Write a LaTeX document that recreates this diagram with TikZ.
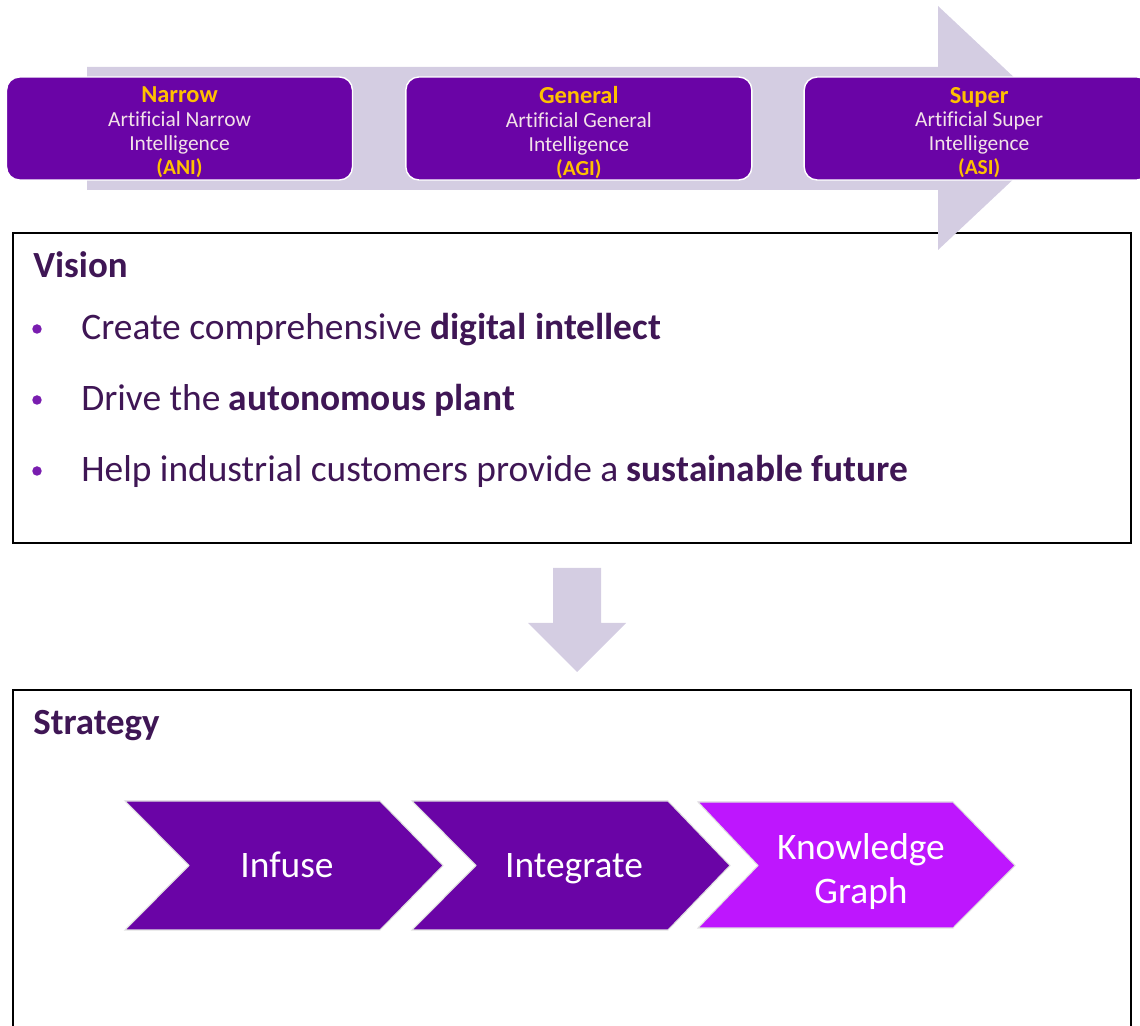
\documentclass[tikz,border=0pt]{standalone}
\usepackage{fontspec}
\setmainfont[Ligatures=NoCommon]{Carlito}
\usepackage{xcolor}
\usetikzlibrary{positioning}

\definecolor{lav}{RGB}{212,205,226}
\definecolor{deeppurple}{RGB}{106,4,166}
\definecolor{brightpurple}{RGB}{190,22,254}
\definecolor{gold}{RGB}{255,192,0}
\definecolor{pale}{RGB}{243,226,232}
\definecolor{ink}{RGB}{63,22,85}

\begin{document}
\begin{tikzpicture}[x=0.02cm, y=-0.02cm,
			stage/.style={rectangle, rounded corners=0.26cm, fill=deeppurple, draw=white,
				line width=0.8pt, minimum width=6.92cm, minimum height=2.06cm, inner sep=0pt},
			stagetext/.style={align=center, text=pale, font=\fontsize{12.2}{13.6}\selectfont},
			panel/.style={draw=black, line width=1.2pt},
			heading/.style={anchor=base west, text=ink, inner sep=0pt,
				font=\fontsize{21}{24}\selectfont\bfseries},
			item/.style={anchor=base west, text=ink, inner sep=0pt,
				font=\fontsize{21.3}{24}\selectfont},
			dot/.style={circle, fill=deeppurple!90, inner sep=0pt, minimum size=0.19cm},
			chev/.style={draw=black!12, line width=0.6pt},
			chevtext/.style={align=center, anchor=base, text=white, inner sep=0pt,
				font=\fontsize{21.3}{25.5}\selectfont}]
			
			\useasboundingbox (0,0) rectangle (1140,1026);
			\clip (0,0) rectangle (1140,1026);
			
%			panels
			\draw[panel] (13,233) rectangle (1131,543);
			\draw[panel] (13,690) rectangle (1131,1060);
			
%			progress arrow behind the stages
			\fill[lav] (87,67) -- (938,67) -- (938,6) -- (1068,128) -- (938,250)
				-- (938,190) -- (87,190) -- cycle;
			
			\node[stage] (ani) at (179.5,128.5) {};
			\node[stage] (agi) [right=1.04cm of ani] {};
			\node[stage] (asi) [right=1.02cm of agi] {};
			
			\node[stagetext] (anitext) at ([yshift=-0.08cm]ani.center) {
				{\color{gold}\bfseries\fontsize{13.9}{13.6}\selectfont Narrow}\\
				Artificial Narrow\\ Intelligence\\ {\color{gold}\bfseries (ANI)}};
			\node[stagetext] (agitext) at ([yshift=-0.08cm]agi.center) {
				{\color{gold}\bfseries\fontsize{13.9}{13.6}\selectfont General}\\
				Artificial General\\ Intelligence\\ {\color{gold}\bfseries (AGI)}};
			\node[stagetext] (asitext) at ([yshift=-0.08cm,xshift=0.04cm]asi.center) {
				{\color{gold}\bfseries\fontsize{13.9}{13.6}\selectfont Super}\\
				Artificial Super\\ Intelligence\\ {\color{gold}\bfseries (ASI)}};
			
%			vision
			\node[heading] (vision) at (33,278) {Vision};
			\node[dot] (dot1) at (37,329) {};
			\node[item] (goal1) at (81,340) {Create comprehensive \textbf{digital intellect}};
			\node[dot] (dot2) at (37,400) {};
			\node[item] (goal2) at (81,411) {Drive the \textbf{autonomous plant}};
			\node[dot] (dot3) at (37,471) {};
			\node[item] (goal3) at (81,482) {Help industrial customers provide a \textbf{sustainable future}};
			
%			down arrow
			\fill[lav] (553,568) -- (601,568) -- (601,623) -- (626,623) -- (577,672)
				-- (528,623) -- (553,623) -- cycle;
			
%			strategy
			\node[heading] (strategy) at (33,735) {Strategy};
			
			\filldraw[chev, fill=deeppurple] (125,801) -- (380,801) -- (443,865.5)
				-- (380,930) -- (125,930) -- (189,865.5) -- cycle;
			\filldraw[chev, fill=deeppurple] (412,801) -- (668,801) -- (730,865.5)
				-- (668,930) -- (412,930) -- (476,865.5) -- cycle;
			\filldraw[chev, fill=brightpurple] (698,802) -- (953,802) -- (1015,865.5)
				-- (953,928) -- (698,928) -- (758,865.5) -- cycle;
			
			\node[chevtext] (infuse) at (287,878) {Infuse};
			\node[chevtext] (integrate) at (574,878) {Integrate};
			\node[chevtext] (graph) at (861,904) {Knowledge\\ Graph};
		\end{tikzpicture}
\end{document}
